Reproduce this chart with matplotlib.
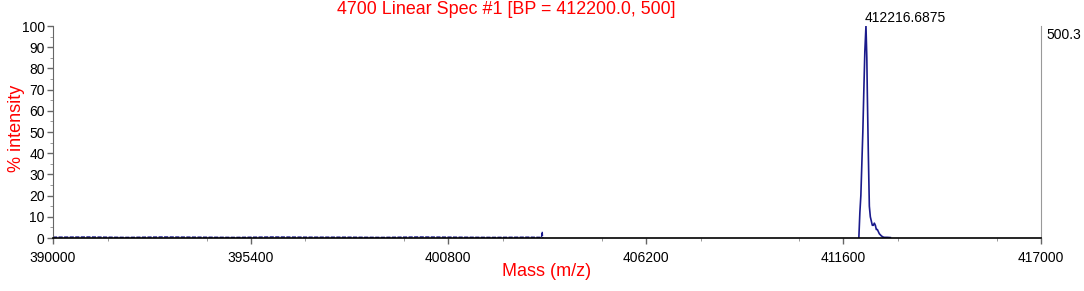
import matplotlib
matplotlib.use("Agg")
import matplotlib.pyplot as plt
from matplotlib.ticker import MultipleLocator

plt.rcParams['font.family'] = ['Liberation Sans', 'DejaVu Sans']

# baseline noise region (mass, % intensity)
base_mass = [390000, 391000, 392000, 393000, 394000, 395000, 396000, 397000,
             398000, 399000, 400000, 401000, 402000, 403000, 403350, 403370,
             403380, 403400]
base_int = [0.4, 0.5, 0.3, 0.5, 0.4, 0.3, 0.5, 0.4,
            0.4, 0.3, 0.5, 0.4, 0.3, 0.4, 0.3, 3.0, 0.3, 0.0]

# main peak
peak_mass = [412022, 412050, 412077, 412104, 412131, 412159, 412186, 412216.6875,
             412240, 412254, 412281, 412309, 412336, 412363, 412390, 412418,
             412445, 412473, 412500, 412528, 412555, 412582, 412610, 412637,
             412680, 412719, 412800, 412883]
peak_int = [0, 12, 20, 35, 50, 70, 88, 100,
            85, 68, 40, 15, 10, 8, 6, 6,
            7, 6, 4, 4, 3, 2, 1.5, 1,
            0.5, 0.3, 0.3, 0.2]

x_ticks = [390000, 395400, 400800, 406200, 411600, 417000]
y_ticks = [0, 10, 20, 30, 40, 50, 60, 70, 80, 90, 100]
title = "4700 Linear Spec #1 [BP = 412200.0, 500]"
peak_label = "412216.6875"
right_label = "500.3"

fig = plt.figure(figsize=(10.84, 2.91), dpi=100)
ax = fig.add_axes([53/1084, 1-238/291, (1041-53)/1084, (238-26)/291])

navy = '#1a1a8c'
ax.plot(base_mass, base_int, color=navy, lw=1.0, ls=(0, (3, 1)))
ax.plot(peak_mass, peak_int, color=navy, lw=1.2)

ax.set_xlim(390000, 417000)
ax.set_ylim(0, 100)
ax.set_xticks(x_ticks)
ax.set_xticklabels([str(t) for t in x_ticks])
ax.set_yticks(y_ticks)
ax.xaxis.set_minor_locator(MultipleLocator(2700))
ax.yaxis.set_minor_locator(MultipleLocator(5))
ax.tick_params(axis='both', which='major', labelsize=10, length=4, color='#666666', width=1)
ax.tick_params(axis='both', which='minor', length=2, color='#888888')
ax.tick_params(axis='y', pad=2)
ax.tick_params(axis='x', pad=5)

ax.spines['top'].set_visible(False)
ax.spines['right'].set_color('#999999')
ax.spines['left'].set_color('#666666')
ax.spines['bottom'].set_color('black')
ax.spines['bottom'].set_linewidth(1.2)

fig.text(547/1084, 1-272/291, "Mass (m/z)", color='red', fontsize=13,
         ha='center', va='center')
fig.text(17/1084, 1-128/291, "% intensity", color='red', fontsize=13,
         ha='center', va='center', rotation=90)

ax.annotate(peak_label, xy=(peak_mass[7], 100), xytext=(-1, 1),
            textcoords='offset points', fontsize=10, ha='left', va='bottom',
            annotation_clip=False)
ax.text(1.005, 0.99, right_label, transform=ax.transAxes, fontsize=10,
        ha='left', va='top')

fig.text(506/1084, 1-10/291, title, color='red', fontsize=12.9, ha='center', va='center')

fig.savefig("out.png", dpi=100)
